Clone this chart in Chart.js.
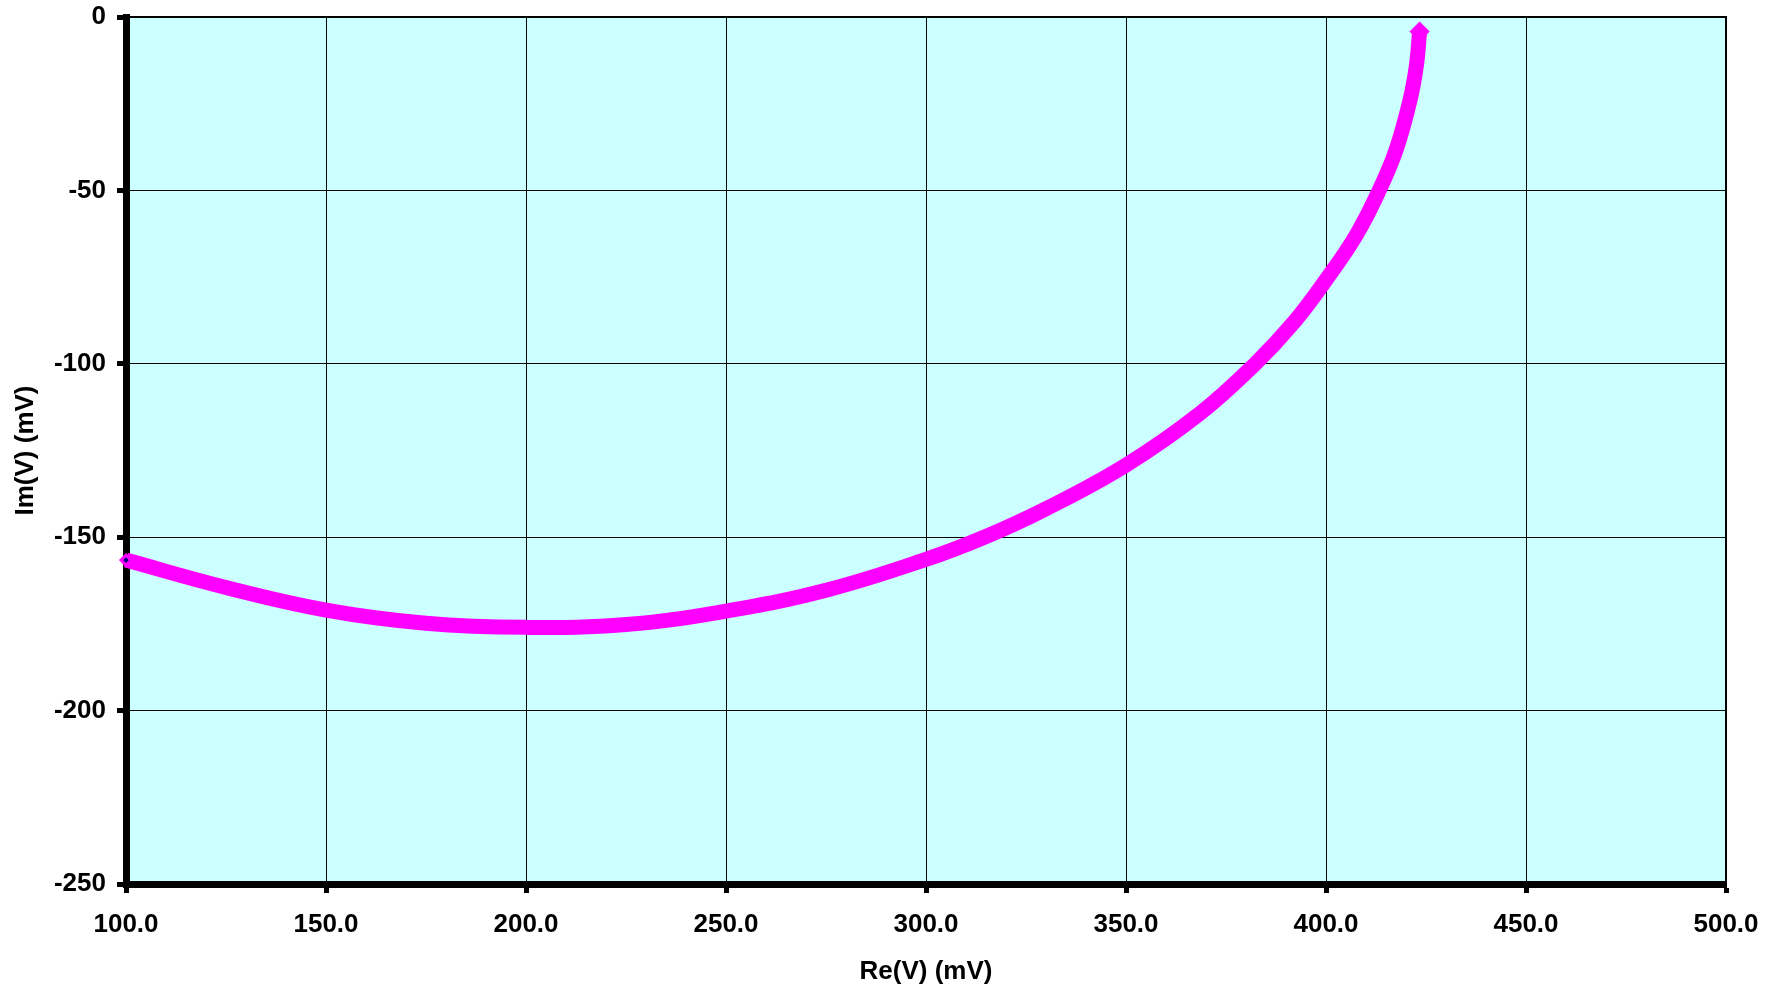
<!DOCTYPE html>
<html>
<head>
<meta charset="utf-8">
<script src="https://cdn.jsdelivr.net/npm/chart.js@4"></script>
<style>
  body { margin: 0; background: #fff; }
  #wrap { width: 1782px; height: 990px; position: relative; }
</style>
</head>
<body>
<div id="wrap"><canvas id="nyquistChart"></canvas></div>
<script>
// Re(V) in mV
const reValues = [100, 125, 150, 175, 200, 225, 250, 275, 300, 315, 330, 350, 368.5, 382.3, 392, 400, 407.5, 413.3, 417.5, 421, 422.6, 423.4];
// Im(V) in mV
const imValues = [-156.6, -164.5, -171.0, -174.8, -176.0, -175.2, -171.3, -165.3, -156.4, -149.8, -141.8, -129.2, -114.3, -100, -88, -75.8, -63, -50, -38.4, -24, -14, -4.2];

const xTicks = [100, 150, 200, 250, 300, 350, 400, 450, 500];
const yTicks = [0, -50, -100, -150, -200, -250];

const points = reValues.map(function(re, i) {
    return { x: re, y: imValues[i] };
});

const lastIdx = points.length - 1;
const tickFont = { family: 'Liberation Sans, Arial, sans-serif', size: 26, weight: 'bold' };

// plot area background + thin top/right frame
const plotFrame = {
    id: 'plotFrame',
    beforeDraw: function(chart) {
        const a = chart.chartArea;
        const ctx = chart.ctx;
        ctx.save();
        ctx.fillStyle = '#CCFFFF';
        ctx.fillRect(a.left, a.top, a.right - a.left, a.bottom - a.top);
        ctx.restore();
    },
    afterDraw: function(chart) {
        const a = chart.chartArea;
        const ctx = chart.ctx;
        ctx.save();
        ctx.strokeStyle = '#000';
        ctx.lineWidth = 2;
        ctx.beginPath();
        ctx.moveTo(a.left, a.top);
        ctx.lineTo(a.right, a.top);
        ctx.lineTo(a.right, a.bottom);
        ctx.stroke();
        ctx.restore();
    }
};

new Chart(document.getElementById('nyquistChart').getContext('2d'), {
    type: 'scatter',
    data: {
        datasets: [{
            label: 'V',
            data: points,
            showLine: true,
            borderColor: '#FF00FF',
            borderWidth: 15,
            borderJoinStyle: 'round',
            tension: 0.4,
            clip: false,
            pointStyle: 'rectRot',
            pointRadius: function(ctx) {
                if (ctx.dataIndex === 0) return 5;
                if (ctx.dataIndex === lastIdx) return 8;
                return 0;
            },
            pointBorderWidth: 3,
            pointBackgroundColor: function(ctx) {
                return ctx.dataIndex === 0 ? '#000080' : '#FF00FF';
            },
            pointBorderColor: '#FF00FF'
        }]
    },
    plugins: [plotFrame],
    options: {
        responsive: true,
        maintainAspectRatio: false,
        animation: false,
        layout: { padding: { top: 17, right: 56, bottom: 0, left: 0 } },
        plugins: {
            legend: { display: false },
            tooltip: { enabled: false }
        },
        scales: {
            x: {
                type: 'linear',
                min: 100,
                max: 500,
                afterFit: function(scale) {
                    scale.height = 106;
                    scale.paddingLeft = 0;
                    scale.paddingRight = 0;
                },
                afterBuildTicks: function(scale) {
                    scale.ticks = xTicks.map(function(v) { return { value: v }; });
                },
                ticks: {
                    color: '#000',
                    font: tickFont,
                    padding: 16,
                    maxRotation: 0,
                    callback: function(v) { return Number(v).toFixed(1); }
                },
                grid: {
                    color: '#000',
                    lineWidth: 1,
                    tickLength: 9,
                    tickWidth: 5,
                    tickColor: '#000'
                },
                border: { color: '#000', width: 7 },
                title: {
                    display: true,
                    text: 'Re(V) (mV)',
                    color: '#000',
                    font: tickFont,
                    padding: { top: 0, bottom: 3 }
                }
            },
            y: {
                type: 'linear',
                min: -250,
                max: 0,
                afterFit: function(scale) {
                    scale.width = 126;
                    scale.paddingTop = 0;
                    scale.paddingBottom = 0;
                },
                afterBuildTicks: function(scale) {
                    scale.ticks = yTicks.map(function(v) { return { value: v }; });
                },
                ticks: {
                    color: '#000',
                    font: tickFont,
                    padding: 11
                },
                grid: {
                    color: '#000',
                    lineWidth: 1,
                    tickLength: 9,
                    tickWidth: 5,
                    tickColor: '#000'
                },
                border: { color: '#000', width: 7 },
                title: {
                    display: true,
                    text: 'Im(V) (mV)',
                    color: '#000',
                    font: tickFont,
                    padding: { top: 10, bottom: 0 }
                }
            }
        }
    }
});
</script>
</body>
</html>
